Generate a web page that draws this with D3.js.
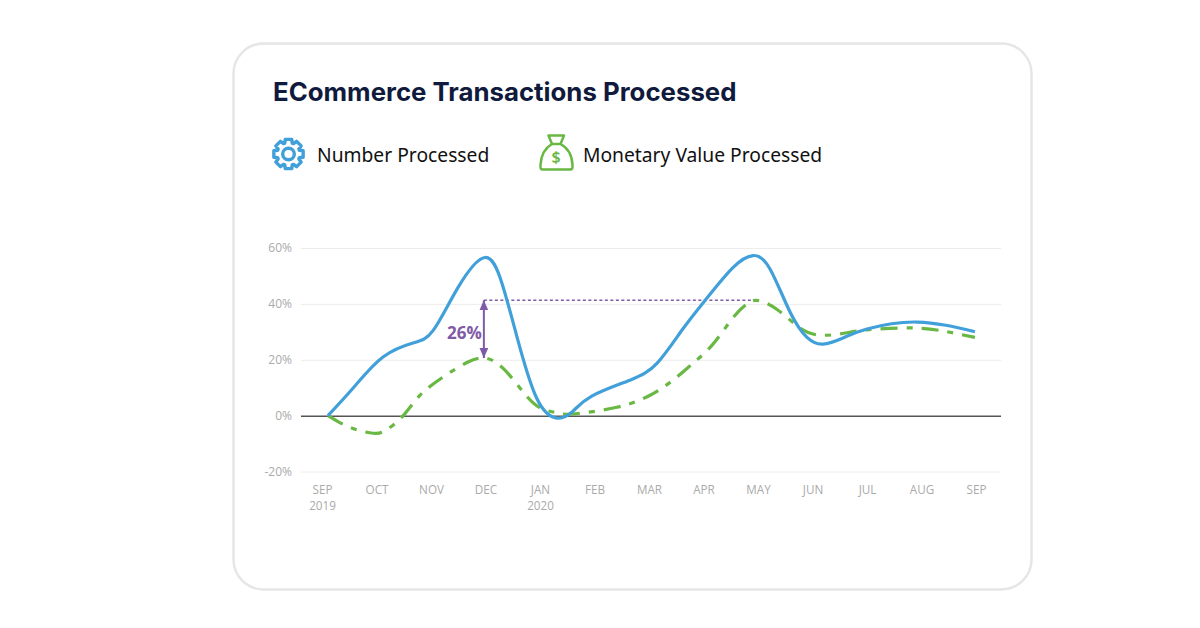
<!DOCTYPE html>
<html>
<head>
<meta charset="utf-8">
<script src="https://cdn.jsdelivr.net/npm/d3@7"></script>
<style>
  html, body { margin: 0; background: #fff; }
  svg { display: block; }
</style>
</head>
<body>
<div id="chart"></div>
<script>
// month labels, second line only where the year changes
const months = ["SEP", "OCT", "NOV", "DEC", "JAN", "FEB", "MAR", "APR", "MAY", "JUN", "JUL", "AUG", "SEP"];
const years = ["2019", "", "", "", "2020", "", "", "", "", "", "", "", ""];
const yTicks = [-20, 0, 20, 40, 60];

// x is in months since Sep 2019
const numberX = [0.11, 0.6, 1.12, 1.67, 2.04, 2.5, 2.99, 3.3, 3.58, 3.94, 4.31, 4.6, 4.95, 5.65, 6.15, 6.62, 7.06, 7.54, 7.91, 8.22, 8.59, 8.9, 9.19, 9.56, 10, 10.92, 11.98];
const numberY = [0, 10.5, 21, 26, 30.5, 46, 56.6, 47.5, 28, 6.2, -0.9, 1.5, 7, 12.7, 18.8, 31, 42, 53, 57.3, 52.5, 37, 28, 25.6, 27.8, 31, 33.5, 30];
const valueX = [0.11, 0.51, 0.94, 1.19, 1.49, 1.8, 2.22, 2.66, 2.99, 3.32, 3.69, 4, 4.31, 4.6, 5.41, 6.02, 6.44, 6.81, 7.17, 7.54, 7.8, 8, 8.35, 8.77, 9.14, 9.56, 10, 10.79, 11.39, 11.98];
const valueY = [0, -4.2, -6.3, -5, 0, 7.3, 13.8, 19, 20.6, 17, 8.5, 2.8, 1, 0.6, 3, 7.3, 12.7, 18.8, 25.5, 35, 40, 41.2, 38, 31.4, 28.8, 29.4, 30.7, 31.4, 30.3, 28];

// the 26% gap annotation
const gapX = [2.97, 8];
const gapY = [20.6, 41.3];
const gapLabel = "26%";

const BLUE = "#41a0d9";
const GREEN = "#69b843";
const PURPLE = "#7f5aa6";

const svg = d3.select("#chart").append("svg")
  .attr("width", 1200)
  .attr("height", 628);

svg.append("defs").append("marker")
  .attr("id", "arrow")
  .attr("viewBox", "0 0 8 7")
  .attr("refX", 8)
  .attr("refY", 3.5)
  .attr("markerUnits", "userSpaceOnUse")
  .attr("markerWidth", 10)
  .attr("markerHeight", 8.75)
  .attr("orient", "auto-start-reverse")
  .append("path")
  .attr("d", "M0,0L8,3.5L0,7Z")
  .attr("fill", PURPLE);

// card
svg.append("rect")
  .attr("x", 233.5).attr("y", 43.5)
  .attr("width", 798).attr("height", 546)
  .attr("rx", 30)
  .attr("fill", "#fff")
  .attr("stroke", "#e6e6e6")
  .attr("stroke-width", 2.5);

svg.append("text")
  .attr("x", 273).attr("y", 101)
  .attr("font-family", "Inter")
  .attr("font-weight", 700)
  .attr("font-size", 25.8)
  .attr("fill", "#0f1a3c")
  .text("ECommerce Transactions Processed");

// legend: gear
const gearPts = [];
const teeth = 8;
for (let i = 0; i < teeth; i++) {
  const a = i * 2 * Math.PI / teeth - Math.PI / 2;
  const w = Math.PI / teeth;
  [[11.5, -w * 0.85], [15, -w * 0.55], [15, w * 0.55], [11.5, w * 0.85]].forEach(p => {
    gearPts.push([p[0] * Math.cos(a + p[1]), p[0] * Math.sin(a + p[1])]);
  });
}
const gear = svg.append("g").attr("transform", "translate(288.5,154)")
  .attr("fill", "none").attr("stroke", BLUE).attr("stroke-width", 3.4).attr("stroke-linejoin", "round");
gear.append("path").attr("d", d3.line().curve(d3.curveLinearClosed)(gearPts));
gear.append("circle").attr("r", 5.8);

svg.append("text")
  .attr("x", 317).attr("y", 162)
  .attr("font-family", "Noto Sans")
  .attr("font-size", 19.25)
  .attr("fill", "#111")
  .text("Number Processed");

// legend: money bag
const bag = svg.append("g")
  .attr("fill", "none").attr("stroke", GREEN).attr("stroke-width", 2.5).attr("stroke-linejoin", "round");
bag.append("path").attr("d", "M548.5,135.5L564,135.5L560.5,144L552,144Z");
bag.append("path").attr("d", "M552,144C545,148 541,155 540.5,165C540.2,168 540.5,169.5 543,169.5L570,169.5C572.5,169.5 572.8,168 572.5,165C572,155 568,148 560.5,144");
svg.append("text")
  .attr("x", 556).attr("y", 163)
  .attr("text-anchor", "middle")
  .attr("font-family", "Noto Sans")
  .attr("font-weight", 600)
  .attr("font-size", 16)
  .attr("fill", GREEN)
  .text("$");

svg.append("text")
  .attr("x", 583).attr("y", 162)
  .attr("font-family", "Noto Sans")
  .attr("font-size", 19.25)
  .attr("fill", "#111")
  .text("Monetary Value Processed");

// scales
const x = d3.scaleLinear().domain([0, 12]).range([322, 976]);
const y = d3.scaleLinear().domain([-20, 60]).range([471.5, 248]);
const gridLeft = 301, gridRight = 1001;

// y axis with the domain removed, ticks stretched into gridlines
const yAxis = svg.append("g")
  .attr("transform", `translate(${gridLeft},0)`)
  .call(d3.axisLeft(y).tickValues(yTicks).tickSize(-(gridRight - gridLeft)).tickPadding(9).tickFormat(d => d + "%"));
yAxis.select(".domain").remove();
yAxis.selectAll("line")
  .attr("stroke", d => d === 0 ? "#555" : "#ececec")
  .attr("stroke-width", d => d === 0 ? 1.5 : 1);
yAxis.selectAll("text")
  .attr("font-family", "Open Sans")
  .attr("font-size", 12)
  .attr("fill", "#aaa");

// month labels, the year goes in a tspan of the same label
const xAxis = svg.append("g")
  .attr("transform", "translate(0,494)")
  .call(d3.axisBottom(x).tickValues(d3.range(months.length)).tickSize(0).tickPadding(0).tickFormat(i => months[i]));
xAxis.select(".domain").remove();
xAxis.selectAll("text")
  .attr("y", 0)
  .attr("dy", "0")
  .attr("font-family", "Open Sans")
  .attr("font-size", 11.7)
  .attr("fill", "#aaa")
  .filter(i => years[i])
  .append("tspan")
  .attr("x", 0)
  .attr("dy", 16)
  .text(i => years[i]);

// series
const line = d3.line()
  .x(d => x(d[0]))
  .y(d => y(d[1]))
  .curve(d3.curveNatural);

// annotation under the lines
svg.append("line")
  .attr("x1", x(gapX[0])).attr("x2", x(gapX[1]))
  .attr("y1", y(gapY[1])).attr("y2", y(gapY[1]))
  .attr("stroke", PURPLE)
  .attr("stroke-width", 1.4)
  .attr("stroke-dasharray", "3 2.5");

svg.append("path")
  .datum(d3.zip(valueX, valueY))
  .attr("d", line)
  .attr("fill", "none")
  .attr("stroke", GREEN)
  .attr("stroke-width", 3.2)
  .attr("stroke-dasharray", "17 9 6 9");

svg.append("path")
  .datum(d3.zip(numberX, numberY))
  .attr("d", line)
  .attr("fill", "none")
  .attr("stroke", BLUE)
  .attr("stroke-width", 3.2);

svg.append("line")
  .attr("x1", x(gapX[0])).attr("x2", x(gapX[0]))
  .attr("y1", y(gapY[0])).attr("y2", y(gapY[1]))
  .attr("stroke", PURPLE)
  .attr("stroke-width", 2)
  .attr("marker-start", "url(#arrow)")
  .attr("marker-end", "url(#arrow)");

svg.append("text")
  .attr("x", x(gapX[0]) - 2)
  .attr("y", 339)
  .attr("text-anchor", "end")
  .attr("font-family", "Open Sans")
  .attr("font-weight", 700)
  .attr("font-size", 17)
  .attr("fill", PURPLE)
  .text(gapLabel);
</script>
</body>
</html>
